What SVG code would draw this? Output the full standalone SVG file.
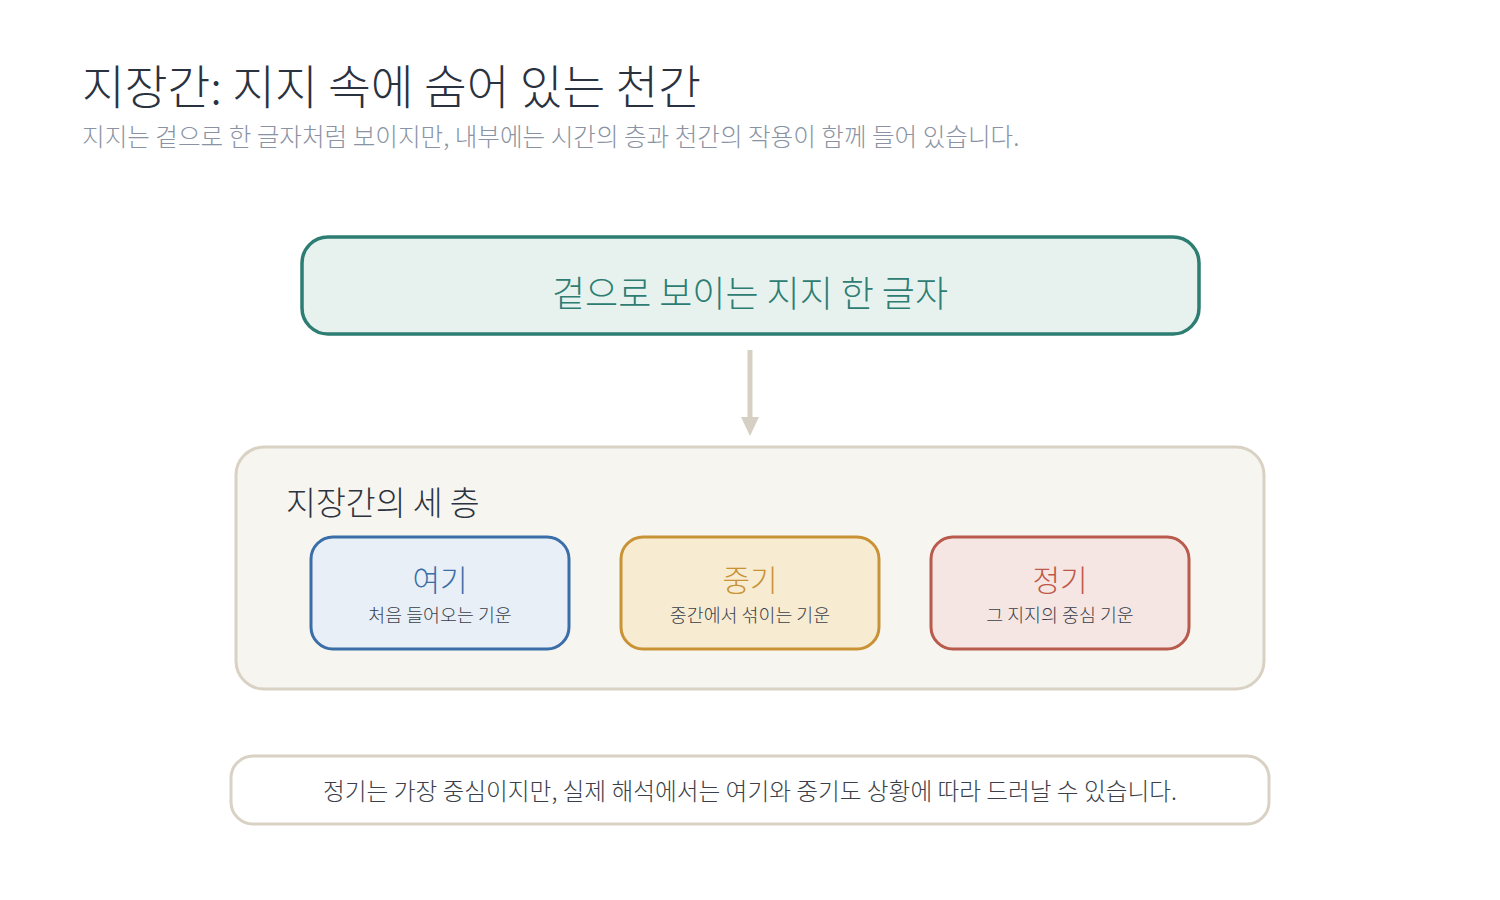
<svg xmlns="http://www.w3.org/2000/svg" width="1500" height="900" viewBox="0 0 1500 900">
<defs>
<style>
text{font-family:"Noto Sans CJK KR","Liberation Sans",sans-serif;font-weight:300;}
.title{font-size:46.5px;fill:#2a3240;}
.sub{font-size:24.6px;fill:#8a93a3;}
.head{font-size:32.5px;fill:#2c3340;}
.desc{font-size:18.4px;fill:#3a3f4a;}
.name{font-size:30px;}
.note{font-size:23.7px;fill:#3a3f4a;}
</style>
</defs>
<rect width="1500" height="900" fill="#ffffff"/>
<g id="header">
<text class="title" x="82" y="104">지장간: 지지 속에 숨어 있는 천간</text>
<text class="sub" x="82" y="146">지지는 겉으로 한 글자처럼 보이지만, 내부에는 시간의 층과 천간의 작용이 함께 들어 있습니다.</text>
</g>
<g id="connectors">
<line x1="750" y1="350" x2="750" y2="420" stroke="#d6d0c4" stroke-width="5"/>
<polygon points="741,417 759,417 750,436" fill="#d6d0c4"/>
</g>
<g id="surface">
<rect x="302" y="237" width="897" height="97" rx="26" fill="#e7f2ee" stroke="#2e7d73" stroke-width="3.5"/>
<text x="750" y="307" text-anchor="middle" font-size="36" fill="#2e7d73">겉으로 보이는 지지 한 글자</text>
</g>
<g id="layers">
<rect x="236" y="447" width="1028" height="242" rx="28" fill="#f6f5f0" stroke="#d8d1c4" stroke-width="3"/>
<text class="head" x="286" y="515">지장간의 세 층</text>
</g>
<g id="yeogi">
<rect x="311" y="537" width="258" height="112" rx="22" fill="#e8eff7" stroke="#3a6ea8" stroke-width="3"/>
<text class="name" x="440" y="591" text-anchor="middle" fill="#3a6ea8">여기</text>
<text class="desc" x="440" y="622" text-anchor="middle">처음 들어오는 기운</text>
</g>
<g id="junggi">
<rect x="621" y="537" width="258" height="112" rx="22" fill="#f7ebd2" stroke="#c99335" stroke-width="3"/>
<text class="name" x="750" y="591" text-anchor="middle" fill="#c99335">중기</text>
<text class="desc" x="750" y="622" text-anchor="middle">중간에서 섞이는 기운</text>
</g>
<g id="jeonggi">
<rect x="931" y="537" width="258" height="112" rx="22" fill="#f5e6e3" stroke="#b85a4c" stroke-width="3"/>
<text class="name" x="1060" y="591" text-anchor="middle" fill="#c0584a">정기</text>
<text class="desc" x="1060" y="622" text-anchor="middle">그 지지의 중심 기운</text>
</g>
<g id="note">
<rect x="231" y="756" width="1038" height="68" rx="22" fill="#ffffff" stroke="#d8d1c4" stroke-width="3"/>
<text class="note" x="750" y="800" text-anchor="middle">정기는 가장 중심이지만, 실제 해석에서는 여기와 중기도 상황에 따라 드러날 수 있습니다.</text>
</g>
</svg>
